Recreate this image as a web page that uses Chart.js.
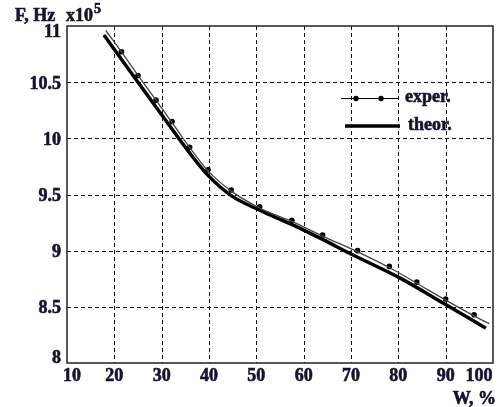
<!DOCTYPE html>
<html>
<head>
<meta charset="utf-8">
<script src="https://cdn.jsdelivr.net/npm/chart.js@4"></script>
<style>
  html, body { margin: 0; padding: 0; background: #fff; }
  #wrap { width: 497px; height: 407px; }
</style>
</head>
<body>
<div id="wrap"><canvas id="main_chart"></canvas></div>
<script>
// chart data
const expW = [21.5, 25.0, 28.8, 32.2, 35.9, 39.8, 44.7, 50.7, 57.5, 64.0, 71.4, 78.1, 83.9, 90.0, 96.0];
const expF = [10.77, 10.56, 10.34, 10.15, 9.92, 9.72, 9.54, 9.39, 9.27, 9.14, 9.00, 8.86, 8.72, 8.57, 8.43];
// thin fit line through the experimental points
const fitW = [18.2, 21.5, 25.0, 28.8, 32.2, 35.9, 39.8, 44.7, 50.7, 57.5, 64.0, 71.4, 78.1, 83.9, 90.0, 96.0, 99.2];
const fitF = [10.96, 10.77, 10.56, 10.34, 10.14, 9.92, 9.71, 9.53, 9.38, 9.26, 9.13, 8.99, 8.85, 8.71, 8.56, 8.42, 8.35];
const theorW = [17.8, 25, 30, 35.9, 39.8, 44.7, 50.7, 57.7, 64, 70, 80.2, 90, 98.5];
const theorF = [10.92, 10.50, 10.21, 9.87, 9.67, 9.49, 9.36, 9.23, 9.10, 8.97, 8.76, 8.52, 8.31];
const xTicks = [10, 20, 30, 40, 50, 60, 70, 80, 90, 100];
const yTicks = [8, 8.5, 9, 9.5, 10, 10.5, 11];
const legendLabels = ["exper.", "theor."];

const pts = (xs, ys) => xs.map((x, i) => ({ x: x, y: ys[i] }));
const ink = '#14142e';
const serif = '"Liberation Serif", "Times New Roman", serif';
const bold18 = 'bold 18px ' + serif;

// heavy text: fill plus a thin stroke, like the bold Times of the original
function txt(ctx, s, x, y) {
    ctx.fillText(s, x, y);
    ctx.strokeText(s, x, y);
}

// dashed grid, drawn under the lines
const grid = {
    id: 'dashgrid',
    beforeDatasetsDraw(chart) {
        const ctx = chart.ctx;
        const a = chart.chartArea;
        const xs = chart.scales.x, ys = chart.scales.y;
        ctx.save();
        ctx.strokeStyle = '#111';
        ctx.lineWidth = 1;
        ctx.setLineDash([4, 3]);
        xTicks.slice(1, -1).forEach((v) => {
            const p = Math.round(xs.getPixelForValue(v)) + 0.5;
            ctx.beginPath();
            ctx.moveTo(p, a.top);
            ctx.lineTo(p, a.bottom);
            ctx.stroke();
        });
        yTicks.slice(1, -1).forEach((v) => {
            const p = Math.round(ys.getPixelForValue(v)) + 0.5;
            ctx.beginPath();
            ctx.moveTo(a.left, p);
            ctx.lineTo(a.right, p);
            ctx.stroke();
        });
        ctx.restore();
    }
};

// frame, tick labels, axis titles and the legend box
const extras = {
    id: 'extras',
    afterDraw(chart) {
        const ctx = chart.ctx;
        const a = chart.chartArea;
        const xs = chart.scales.x, ys = chart.scales.y;
        ctx.save();
        ctx.strokeStyle = '#222';
        ctx.lineWidth = 1.5;
        ctx.setLineDash([]);
        ctx.strokeRect(a.left, a.top, a.right - a.left, a.bottom - a.top);

        ctx.fillStyle = ink;
        ctx.strokeStyle = ink;
        ctx.lineWidth = 0.6;
        ctx.font = bold18;
        ctx.textBaseline = 'middle';
        ctx.textAlign = 'right';
        yTicks.forEach((v, i) => {
            let y = ys.getPixelForValue(v) + 2;
            if (i == 0) y -= 7;
            if (i == yTicks.length - 1) y += 4;
            txt(ctx, String(v), a.left - 6, y);
        });
        ctx.textAlign = 'center';
        xTicks.forEach((v, i) => {
            let x = xs.getPixelForValue(v);
            if (i == 0) x += 5;
            if (i == xTicks.length - 1) x -= 14;
            txt(ctx, String(v), x, a.bottom + 13);
        });

        ctx.textBaseline = 'alphabetic';
        ctx.textAlign = 'left';
        txt(ctx, 'F, Hz', 15, 21);
        txt(ctx, 'x10', 66, 21);
        let w = ctx.measureText('x10').width;
        ctx.font = 'bold 14px ' + serif;
        txt(ctx, '5', 66 + w + 1, 13);
        ctx.font = bold18;
        ctx.textAlign = 'right';
        txt(ctx, 'W, %', 496, 404);

        // legend
        ctx.strokeStyle = '#000';
        ctx.fillStyle = '#000';
        ctx.lineWidth = 1;
        ctx.beginPath();
        ctx.moveTo(341, 98.5);
        ctx.lineTo(398, 98.5);
        ctx.stroke();
        [356, 381].forEach((x) => {
            ctx.beginPath();
            ctx.arc(x, 98.5, 2.7, 0, Math.PI * 2);
            ctx.fill();
        });
        ctx.lineWidth = 3.5;
        ctx.beginPath();
        ctx.moveTo(345, 126);
        ctx.lineTo(400, 126);
        ctx.stroke();
        ctx.fillStyle = ink;
        ctx.strokeStyle = ink;
        ctx.lineWidth = 0.6;
        ctx.textAlign = 'left';
        ctx.textBaseline = 'middle';
        ctx.font = bold18;
        txt(ctx, legendLabels[0], 405, 97);
        txt(ctx, legendLabels[1], 408, 125);
        ctx.restore();
    }
};

let chart1 = new Chart(document.getElementById('main_chart'), {
    type: 'scatter',
    data: {
        datasets: [{
            label: legendLabels[0] + ' fit',
            data: pts(fitW, fitF),
            showLine: true,
            borderColor: '#444',
            borderWidth: 1.3,
            pointRadius: 0,
            cubicInterpolationMode: 'monotone'
        }, {
            label: legendLabels[1],
            data: pts(theorW, theorF),
            showLine: true,
            borderColor: '#000',
            borderWidth: 3.5,
            pointRadius: 0,
            cubicInterpolationMode: 'monotone'
        }, {
            label: legendLabels[0],
            data: pts(expW, expF),
            showLine: false,
            pointRadius: 2.8,
            pointBackgroundColor: '#000',
            pointBorderWidth: 0
        }]
    },
    options: {
        responsive: true,
        maintainAspectRatio: false,
        animation: false,
        layout: { padding: { top: 26, right: 3, left: 0, bottom: 0 } },
        plugins: { legend: { display: false }, tooltip: { enabled: false } },
        scales: {
            x: {
                type: 'linear',
                min: 10,
                max: 100,
                afterFit: (s) => { s.height = 44; },
                grid: { display: false },
                border: { display: false },
                ticks: { display: false }
            },
            y: {
                min: 8,
                max: 11,
                afterFit: (s) => { s.width = 67; },
                grid: { display: false },
                border: { display: false },
                ticks: { display: false }
            }
        }
    },
    plugins: [grid, extras]
});
</script>
</body>
</html>
